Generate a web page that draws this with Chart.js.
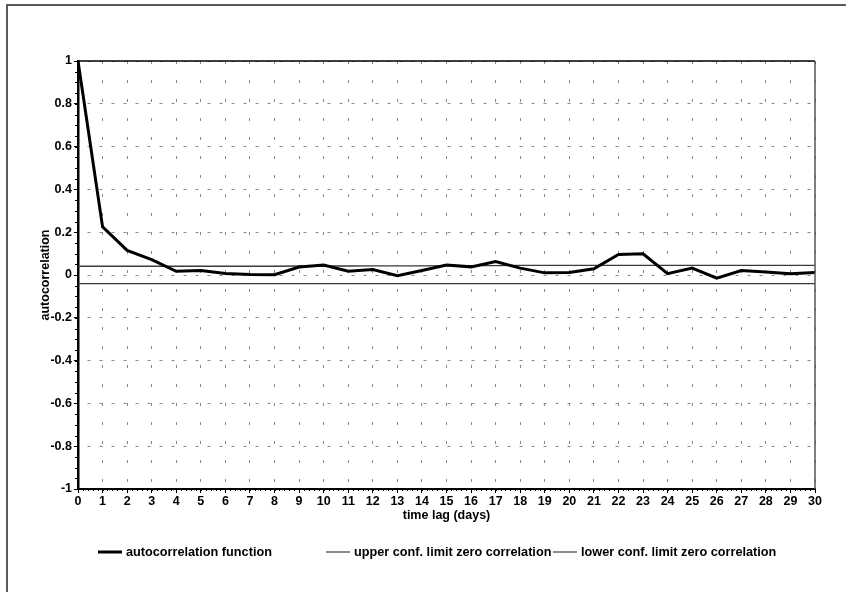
<!DOCTYPE html>
<html>
<head>
<meta charset="utf-8">
<script src="https://cdn.jsdelivr.net/npm/chart.js@4/dist/chart.umd.min.js"></script>
<style>
  html, body { margin: 0; padding: 0; background: #fff; }
  #wrap { width: 846px; height: 592px; position: relative; }
</style>
</head>
<body>
<div id="wrap"><canvas id="acfChart" width="846" height="592"></canvas></div>
<script>
// Lag in days
const lags = [0, 1, 2, 3, 4, 5, 6, 7, 8, 9, 10, 11, 12, 13, 14, 15,
              16, 17, 18, 19, 20, 21, 22, 23, 24, 25, 26, 27, 28, 29, 30];

// Sample autocorrelation per lag
const acf = [1.000, 0.225, 0.115, 0.072, 0.017, 0.021, 0.007, 0.002, 0.001, 0.037, 0.047,
             0.018, 0.026, -0.003, 0.021, 0.047, 0.038, 0.063, 0.032, 0.010, 0.012,
             0.029, 0.096, 0.099, 0.006, 0.032, -0.015, 0.021, 0.014, 0.006, 0.012];

// Confidence limits for zero correlation
const upperLimit = [0.041, 0.041, 0.041, 0.041, 0.041, 0.041, 0.041, 0.041, 0.041, 0.042, 0.042,
                    0.042, 0.043, 0.043, 0.043, 0.044, 0.044, 0.044, 0.045, 0.045, 0.045,
                    0.045, 0.045, 0.045, 0.045, 0.045, 0.045, 0.045, 0.045, 0.045, 0.045];
const lowerLimit = [-0.040, -0.040, -0.040, -0.040, -0.040, -0.040, -0.040, -0.040, -0.040, -0.040, -0.040,
                    -0.040, -0.040, -0.040, -0.040, -0.040, -0.040, -0.040, -0.040, -0.040, -0.040,
                    -0.040, -0.040, -0.040, -0.040, -0.040, -0.040, -0.040, -0.040, -0.040, -0.040];

const seriesNames = ['autocorrelation function',
                     'upper conf. limit zero correlation',
                     'lower conf. limit zero correlation'];
const xTitle = 'time lag (days)';
const yTitle = 'autocorrelation';

const toPoints = (vals) => vals.map((v, i) => ({ x: lags[i], y: v }));

const FONT = { family: '"Liberation Sans", Arial, sans-serif', size: 12.5, weight: 'bold' };
const LEGEND_FONT_CSS = 'bold 12.7px "Liberation Sans", Arial, sans-serif';

// Page frame, plot frame, minor ticks and the bottom legend
const decorations = {
  id: 'decorations',
  beforeDraw(chart) {
    const ctx = chart.ctx;
    ctx.save();
    ctx.fillStyle = '#fff';
    ctx.fillRect(0, 0, chart.width, chart.height);
    ctx.strokeStyle = '#5a5a5a';
    ctx.lineWidth = 2;
    ctx.beginPath();
    ctx.moveTo(7, chart.height + 4);
    ctx.lineTo(7, 5);
    ctx.lineTo(chart.width + 4, 5);
    ctx.stroke();
    ctx.restore();
  },
  afterDraw(chart) {
    const ctx = chart.ctx;
    const a = chart.chartArea;
    const xs = chart.scales.x, ys = chart.scales.y;
    ctx.save();
    // top and right edges of the plot
    ctx.lineWidth = 1.5;
    ctx.strokeStyle = '#000';
    ctx.beginPath();
    ctx.moveTo(a.left, a.top);
    ctx.lineTo(a.right, a.top);
    ctx.stroke();
    ctx.strokeStyle = '#555';
    ctx.beginPath();
    ctx.moveTo(a.right, a.top);
    ctx.lineTo(a.right, a.bottom);
    ctx.stroke();

    // minor ticks
    ctx.strokeStyle = '#000';
    ctx.lineWidth = 1;
    ctx.beginPath();
    for (let k = -20; k <= 20; k++) {
      const py = Math.round(ys.getPixelForValue(k * 0.05)) + 0.5;
      ctx.moveTo(a.left - 3, py);
      ctx.lineTo(a.left, py);
    }
    for (let k = 0; k <= 150; k++) {
      const px = Math.round(xs.getPixelForValue(k * 0.2)) + 0.5;
      ctx.moveTo(px, a.bottom);
      ctx.lineTo(px, a.bottom + 2);
    }
    ctx.stroke();

    // legend
    const starts = [98, 326, 553];
    const ly = 552;
    ctx.font = LEGEND_FONT_CSS;
    ctx.textBaseline = 'middle';
    ctx.textAlign = 'left';
    chart.data.datasets.forEach((ds, i) => {
      const x0 = starts[i];
      ctx.strokeStyle = i === 0 ? '#000' : '#666';
      ctx.lineWidth = i === 0 ? 3 : 1.5;
      ctx.beginPath();
      ctx.moveTo(x0, ly);
      ctx.lineTo(x0 + 24, ly);
      ctx.stroke();
      ctx.fillStyle = '#000';
      ctx.fillText(ds.label, x0 + 28, ly);
    });
    ctx.restore();
  }
};

new Chart(document.getElementById('acfChart'), {
  type: 'line',
  data: {
    datasets: [
      { label: seriesNames[0], data: toPoints(acf), borderColor: '#000', borderWidth: 3,
        pointRadius: 0, tension: 0, fill: false },
      { label: seriesNames[1], data: toPoints(upperLimit), borderColor: '#3a3a3a', borderWidth: 1.3,
        pointRadius: 0, tension: 0, fill: false },
      { label: seriesNames[2], data: toPoints(lowerLimit), borderColor: '#3a3a3a', borderWidth: 1.3,
        pointRadius: 0, tension: 0, fill: false }
    ]
  },
  options: {
    responsive: false,
    animation: false,
    events: [],
    layout: { padding: { left: 0, top: 61, right: 31, bottom: 63 } },
    plugins: { legend: { display: false }, tooltip: { enabled: false } },
    scales: {
      x: {
        type: 'linear', min: 0, max: 30,
        ticks: { stepSize: 1, autoSkip: false, maxRotation: 0, padding: 1, color: '#000', font: FONT },
        grid: { color: '#888', lineWidth: 1, tickLength: 4, tickColor: '#000', tickWidth: 1 },
        border: { display: true, color: '#000', width: 2, dash: [3, 16], dashOffset: 0 },
        title: { display: true, text: xTitle, color: '#000', font: FONT, padding: { top: 0, bottom: 6 } },
        afterFit(s) { s.height = 40; }
      },
      y: {
        min: -1, max: 1,
        ticks: { stepSize: 0.2, padding: 2, color: '#000', font: FONT,
                 callback: (v) => String(Number(v.toFixed(1))) },
        grid: { color: '#888', lineWidth: 1, tickLength: 4, tickColor: '#000', tickWidth: 1 },
        border: { display: true, color: '#000', width: 2.5, dash: [3, 9], dashOffset: 4 },
        title: { display: true, text: yTitle, color: '#000', font: FONT, padding: { top: 38, bottom: 0 } },
        afterFit(s) { s.width = 78; }
      }
    }
  },
  plugins: [decorations]
});
</script>
</body>
</html>
